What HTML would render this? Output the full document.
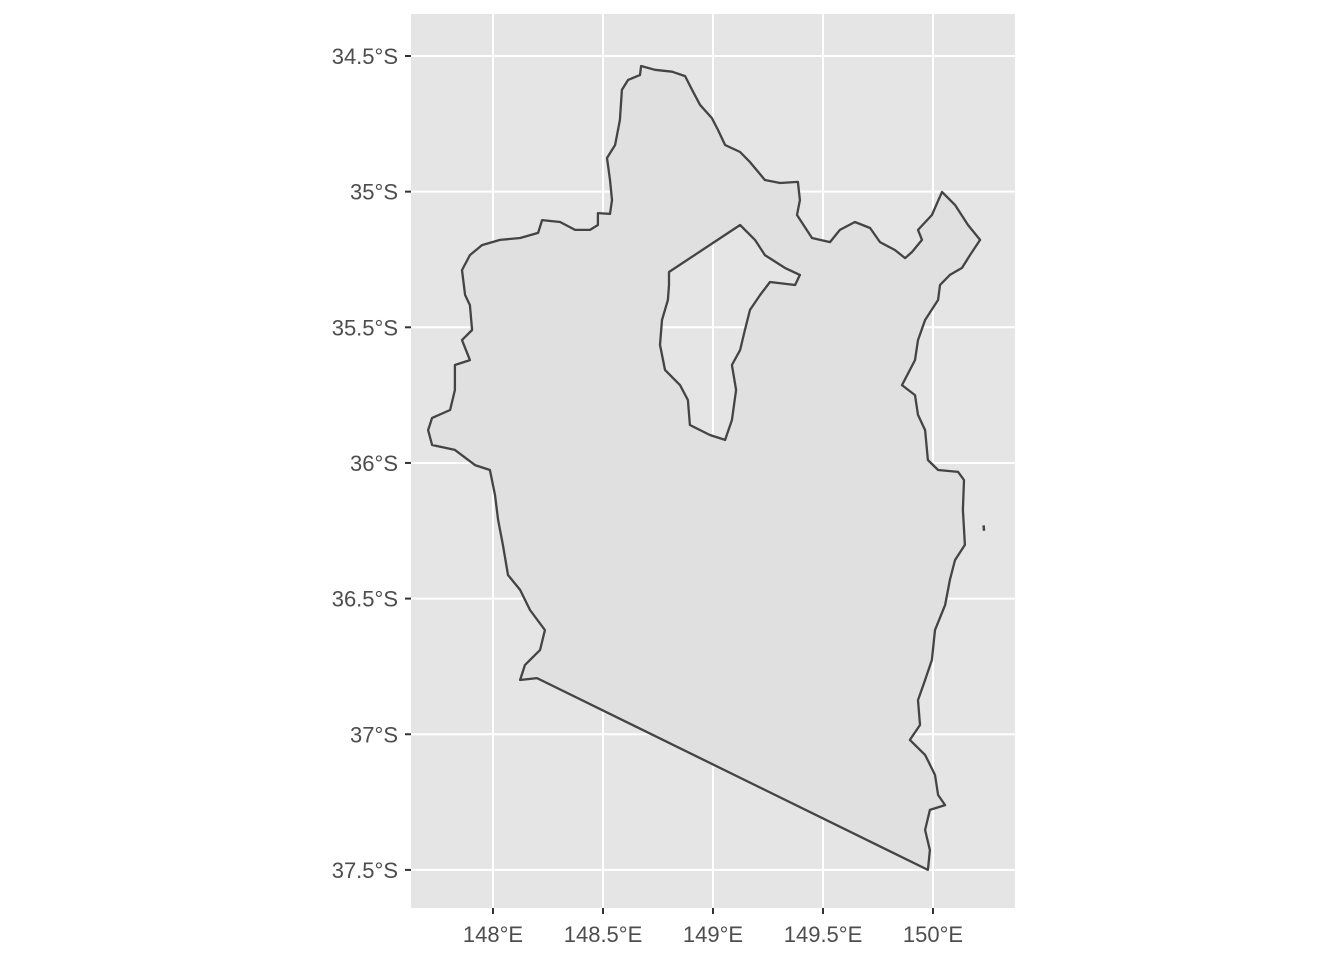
<!DOCTYPE html>
<html><head><meta charset="utf-8"><style>
body{margin:0;background:#fff;}
svg{display:block;font-family:"Liberation Sans",Arial,sans-serif;}
</style></head><body>
<svg id="chart" width="1344" height="960"></svg>
<script>
const xTicks=[148,148.5,149,149.5,150];
const xTickLabels=["148°E","148.5°E","149°E","149.5°E","150°E"];
const yTicks=[34.5,35,35.5,36,36.5,37,37.5];
const yTickLabels=["34.5°S","35°S","35.5°S","36°S","36.5°S","37°S","37.5°S"];
const outerLon=[148.673,148.736,148.814,148.873,148.905,148.941,148.995,149.023,149.055,149.123,149.168,149.236,149.305,149.386,149.395,149.382,149.450,149.532,149.577,149.645,149.714,149.759,149.827,149.873,149.905,149.950,149.932,149.995,150.041,150.100,150.159,150.214,150.168,150.132,150.077,150.032,150.023,149.964,149.932,149.918,149.859,149.918,149.932,149.964,149.977,150.023,150.114,150.141,150.136,150.145,150.100,150.077,150.055,150.009,149.995,149.964,149.932,149.941,149.895,149.964,150.009,150.023,150.055,149.986,149.964,149.986,149.977,148.200,148.123,148.145,148.214,148.236,148.168,148.123,148.068,148.045,148.023,148.009,147.986,147.918,147.827,147.723,147.705,147.723,147.805,147.827,147.827,147.895,147.859,147.905,147.895,147.873,147.859,147.895,147.950,148.032,148.123,148.205,148.223,148.305,148.373,148.441,148.477,148.477,148.532,148.541,148.532,148.518,148.555,148.577,148.586,148.614,148.668];
const outerLat=[34.537,34.551,34.558,34.574,34.625,34.680,34.729,34.773,34.828,34.854,34.891,34.957,34.968,34.964,35.031,35.086,35.171,35.186,35.141,35.112,35.134,35.186,35.215,35.245,35.222,35.178,35.141,35.086,35.001,35.049,35.123,35.178,35.234,35.281,35.307,35.344,35.399,35.473,35.547,35.621,35.713,35.750,35.823,35.879,35.989,36.026,36.033,36.063,36.173,36.302,36.358,36.431,36.524,36.616,36.726,36.800,36.874,36.966,37.021,37.076,37.150,37.224,37.261,37.279,37.353,37.427,37.500,36.793,36.800,36.745,36.689,36.616,36.542,36.468,36.413,36.302,36.210,36.118,36.026,36.008,35.952,35.934,35.879,35.834,35.805,35.731,35.639,35.621,35.547,35.510,35.418,35.381,35.289,35.234,35.197,35.178,35.171,35.152,35.105,35.112,35.141,35.141,35.123,35.079,35.082,35.031,34.957,34.876,34.828,34.736,34.625,34.588,34.570];
const holeLon=[148.800,149.123,149.191,149.236,149.327,149.395,149.373,149.259,149.214,149.168,149.145,149.123,149.086,149.105,149.086,149.055,148.986,148.895,148.886,148.850,148.782,148.759,148.768,148.795,148.800];
const holeLat=[35.296,35.123,35.178,35.234,35.281,35.307,35.344,35.333,35.381,35.436,35.510,35.584,35.639,35.731,35.842,35.915,35.897,35.860,35.768,35.713,35.657,35.565,35.473,35.399,35.344];
const islandLon=[150.230,150.232];
const islandLat=[36.230,36.250];

const NS="http://www.w3.org/2000/svg";
const svg=document.getElementById('chart');
const X0=411,X1=1015,Y0=14,Y1=908;
const sx=v=>493+(v-148)*220;
const sy=v=>56+(v-34.5)*271.3;
function mk(t,a,p){const e=document.createElementNS(NS,t);for(const k in a)e.setAttribute(k,a[k]);(p||svg).appendChild(e);return e;}
const panel=mk('rect',{x:X0,y:Y0,width:X1-X0,height:Y1-Y0,fill:'#e5e5e5'});


xTicks.forEach((t,i)=>{
  const g=mk('line',{x1:sx(t),x2:sx(t),y1:Y0,y2:Y1,stroke:'#fff','stroke-width':2});
  
  
  mk('line',{x1:sx(t),x2:sx(t),y1:Y1,y2:Y1+6,stroke:'#333','stroke-width':2});
  const tx=mk('text',{x:sx(t),y:942,'text-anchor':'middle','font-size':22,fill:'#4d4d4d'});
  tx.textContent=xTickLabels[i];
  
  
});
yTicks.forEach((t,i)=>{
  const g=mk('line',{x1:X0,x2:X1,y1:sy(t),y2:sy(t),stroke:'#fff','stroke-width':2});
  
  
  mk('line',{x1:X0-6,x2:X0,y1:sy(t),y2:sy(t),stroke:'#333','stroke-width':2});
  const tx=mk('text',{x:398,y:sy(t)+8,'text-anchor':'end','font-size':22,fill:'#4d4d4d'});
  tx.textContent=yTickLabels[i];
  
  
});
function ring(lo,la){return lo.map((v,i)=>(i?'L':'M')+sx(v).toFixed(1)+','+sy(la[i]).toFixed(1)).join('')+'Z';}
const region=mk('path',{d:ring(outerLon,outerLat)+ring(holeLon,holeLat),fill:'#e0e0e0','fill-rule':'evenodd',stroke:'#444','stroke-width':2.3,'stroke-linejoin':'round'});


const isl=mk('path',{d:'M'+sx(islandLon[0])+','+sy(islandLat[0])+'L'+sx(islandLon[1])+','+sy(islandLat[1]),stroke:'#444','stroke-width':2.5,fill:'none'});


</script>
</body></html>
